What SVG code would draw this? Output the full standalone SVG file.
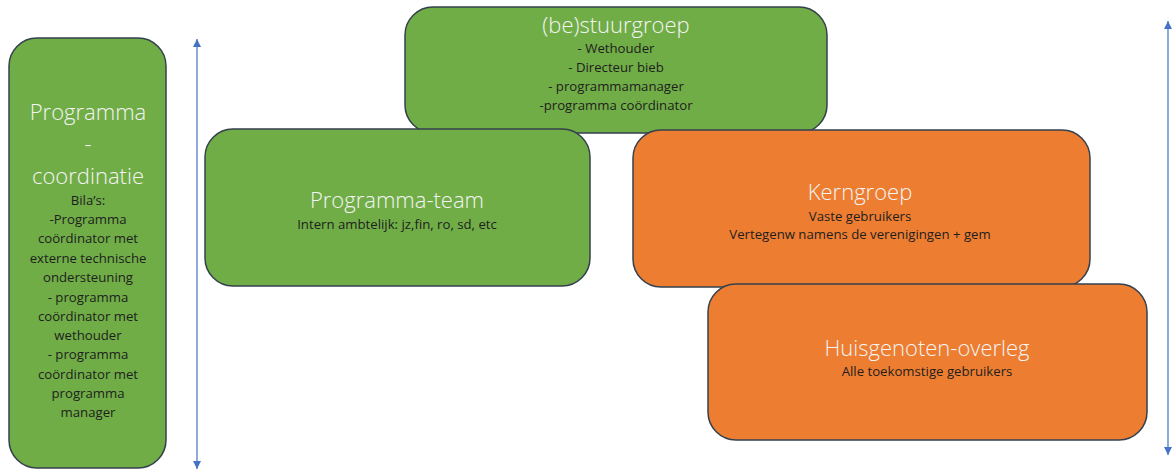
<svg xmlns="http://www.w3.org/2000/svg" width="1176" height="470" viewBox="0 0 1176 470">
<style>
.box{stroke:#34404c;stroke-width:1.5}
.g{fill:#70ad47}
.o{fill:#ed7d31}
.t{font-family:"Open Sans","Liberation Sans",sans-serif;font-size:22px;font-weight:300;fill:#f4f4f4;text-anchor:middle}
.s{font-family:"Open Sans","Liberation Sans",sans-serif;font-size:13.2px;fill:#1e1e1e;text-anchor:middle}
.arr{stroke:#4472c4;stroke-width:1.2;fill:none}
</style>
<defs>
<marker id="ah" viewBox="0 0 10 10" refX="10" refY="5" markerWidth="8" markerHeight="8" orient="auto-start-reverse" markerUnits="userSpaceOnUse">
<path d="M0,0 L10,5 L0,10 Z" fill="#4472c4"/>
</marker>
</defs>
<rect width="1176" height="470" fill="#ffffff"/>
<g id="connectors">
<line class="arr" x1="197" y1="39" x2="197" y2="469" marker-start="url(#ah)" marker-end="url(#ah)"/>
<line class="arr" x1="1168" y1="21" x2="1168" y2="455" marker-start="url(#ah)" marker-end="url(#ah)"/>
</g>
<g id="programma-coordinatie">
<rect class="box g" x="9" y="38" width="157" height="430" rx="28"/>
<text class="t" x="88" y="120">Programma</text>
<text class="t" x="88" y="152">-</text>
<text class="t" x="88" y="184">coordinatie</text>
<text class="s" x="88" y="205">Bila’s:</text>
<text class="s" x="88" y="224">-Programma</text>
<text class="s" x="88" y="243">coördinator met</text>
<text class="s" x="88" y="263">externe technische</text>
<text class="s" x="88" y="282">ondersteuning</text>
<text class="s" x="88" y="302">- programma</text>
<text class="s" x="88" y="321">coördinator met</text>
<text class="s" x="88" y="340">wethouder</text>
<text class="s" x="88" y="359">- programma</text>
<text class="s" x="88" y="379">coördinator met</text>
<text class="s" x="88" y="398">programma</text>
<text class="s" x="88" y="417">manager</text>
</g>
<g id="stuurgroep">
<rect class="box g" x="405" y="7" width="422" height="126" rx="28"/>
<text class="t" x="616" y="33">(be)stuurgroep</text>
<text class="s" x="616" y="53">- Wethouder</text>
<text class="s" x="616" y="72">- Directeur bieb</text>
<text class="s" x="616" y="91">- programmamanager</text>
<text class="s" x="616" y="110">-programma coördinator</text>
</g>
<g id="programma-team">
<rect class="box g" x="205" y="129" width="385" height="157" rx="28"/>
<text class="t" x="397" y="208">Programma-team</text>
<text class="s" x="397" y="229">Intern ambtelijk: jz,fin, ro, sd, etc</text>
</g>
<g id="kerngroep">
<rect class="box o" x="633" y="130" width="457" height="157" rx="28"/>
<text class="t" x="860" y="200">Kerngroep</text>
<text class="s" x="860" y="221">Vaste gebruikers</text>
<text class="s" x="860" y="239">Vertegenw namens de verenigingen + gem</text>
</g>
<g id="huisgenoten-overleg">
<rect class="box o" x="708" y="284" width="439" height="156" rx="28"/>
<text class="t" x="927" y="356">Huisgenoten-overleg</text>
<text class="s" x="927" y="376">Alle toekomstige gebruikers</text>
</g>
</svg>
